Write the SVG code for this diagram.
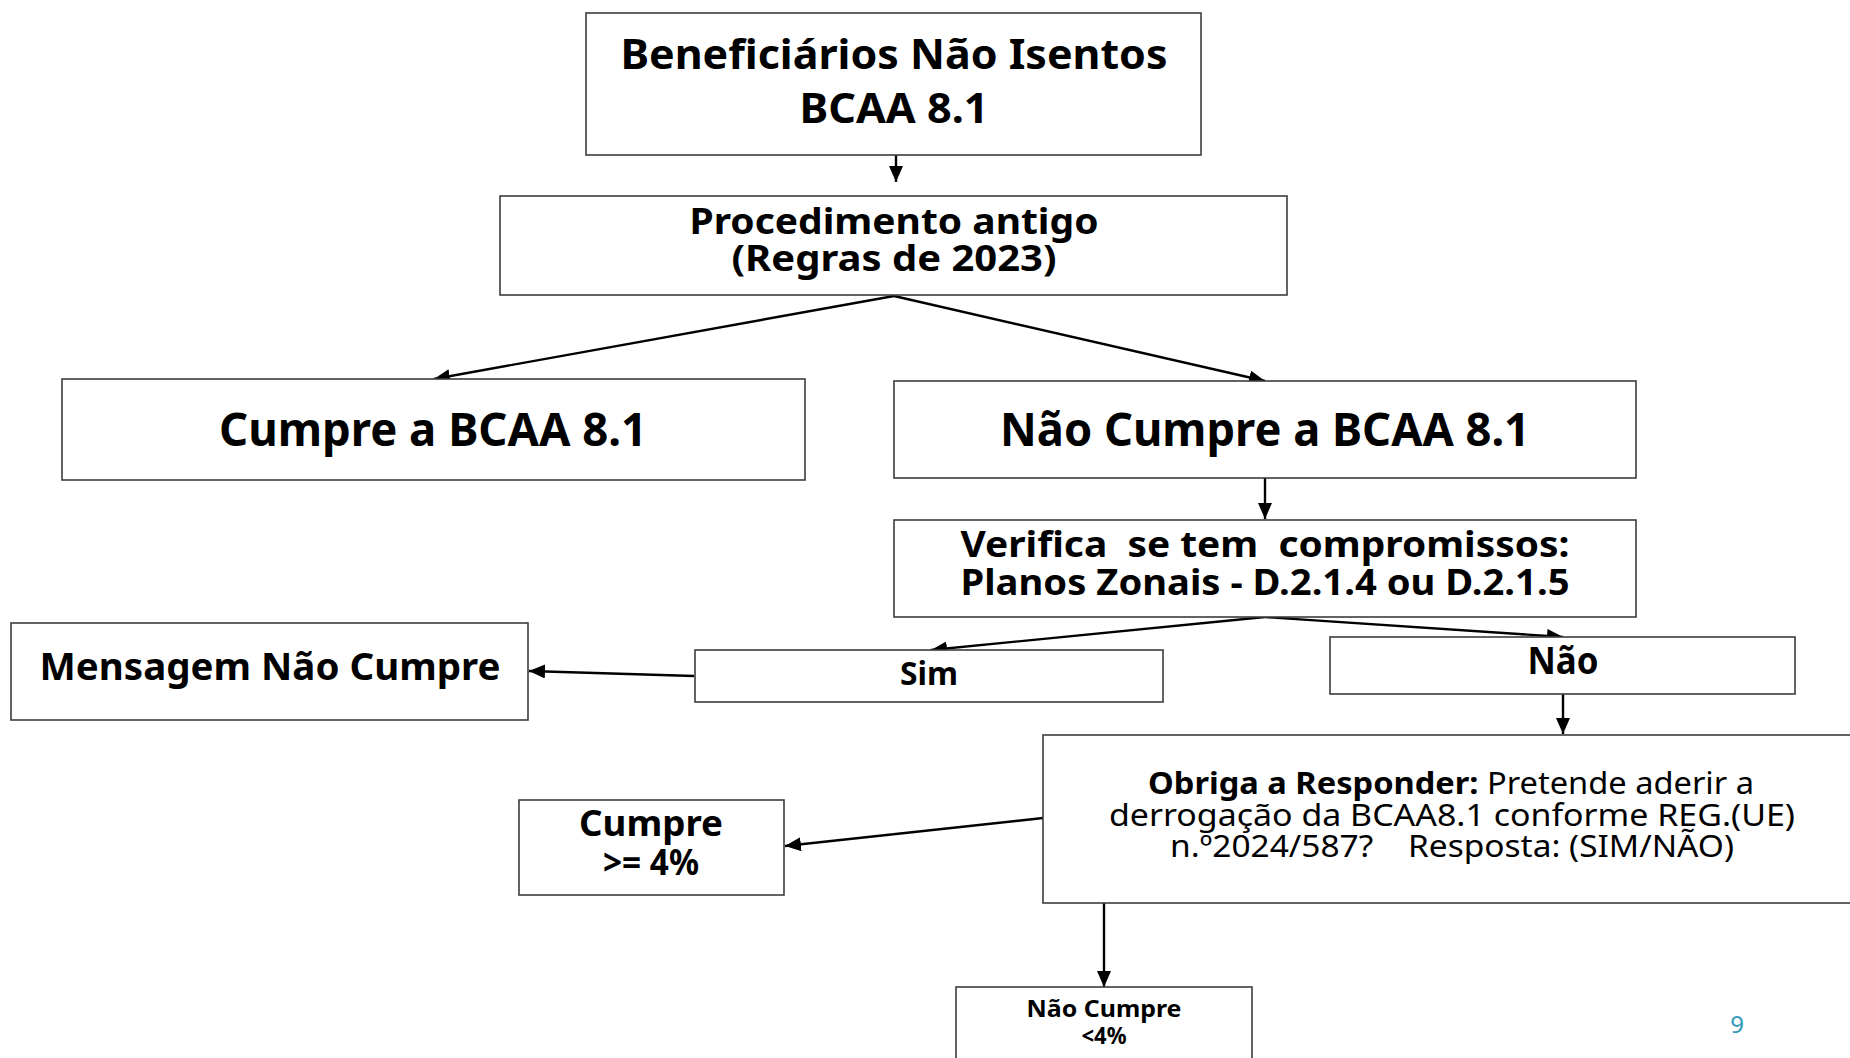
<svg xmlns="http://www.w3.org/2000/svg" width="1850" height="1058" viewBox="0 0 1850 1058">
<style>
  .box { fill: #ffffff; stroke: #3c3c3c; stroke-width: 1.6; }
  .t { font-family: "Noto Sans", "Open Sans", "Liberation Sans", sans-serif; font-weight: bold; fill: #000000; text-anchor: middle; white-space: pre; }
  .r { font-weight: normal; }
  .conn { stroke: #000000; stroke-width: 2.4; fill: none; marker-end: url(#arrow); }
  .pg { font-family: "Noto Sans", "Open Sans", sans-serif; fill: #3399bb; text-anchor: middle; font-size: 24px; }
</style>
<defs>
  <marker id="arrow" markerUnits="userSpaceOnUse" markerWidth="18" markerHeight="14" refX="16" refY="7" orient="auto">
    <path d="M0,0 L16,7 L0,14 Z" fill="#000000"/>
  </marker>
</defs>
<rect width="1850" height="1058" fill="#ffffff"/>

<g id="connectors">
  <line class="conn" x1="896" y1="155" x2="896" y2="182"/>
  <line class="conn" x1="894" y1="296" x2="434" y2="379"/>
  <line class="conn" x1="894" y1="296" x2="1265" y2="381"/>
  <line class="conn" x1="1265" y1="478" x2="1265" y2="519"/>
  <line class="conn" x1="1265" y1="617" x2="931" y2="650"/>
  <line class="conn" x1="1265" y1="617" x2="1563" y2="637"/>
  <line class="conn" x1="694" y1="676" x2="529" y2="671"/>
  <line class="conn" x1="1563" y1="694" x2="1563" y2="734"/>
  <line class="conn" x1="1043" y1="818" x2="785" y2="846"/>
  <line class="conn" x1="1104" y1="900" x2="1104" y2="987"/>
</g>

<g id="n-beneficiarios">
  <rect class="box" x="586" y="13" width="615" height="142"/>
  <text class="t" x="894" y="69" font-size="41" textLength="547" lengthAdjust="spacingAndGlyphs">Beneficiários Não Isentos</text>
  <text class="t" x="894" y="123" font-size="41" textLength="189" lengthAdjust="spacingAndGlyphs">BCAA 8.1</text>
</g>

<g id="n-procedimento">
  <rect class="box" x="500" y="196" width="787" height="99"/>
  <text class="t" x="894" y="234" font-size="35" textLength="409" lengthAdjust="spacingAndGlyphs">Procedimento antigo</text>
  <text class="t" x="894" y="271" font-size="35" textLength="325" lengthAdjust="spacingAndGlyphs">(Regras de 2023)</text>
</g>

<g id="n-cumpre">
  <rect class="box" x="62" y="379" width="743" height="101"/>
  <text class="t" x="433" y="446" font-size="46" textLength="428" lengthAdjust="spacingAndGlyphs">Cumpre a BCAA 8.1</text>
</g>

<g id="n-nao-cumpre">
  <rect class="box" x="894" y="381" width="742" height="97"/>
  <text class="t" x="1265" y="446" font-size="46" textLength="530" lengthAdjust="spacingAndGlyphs">Não Cumpre a BCAA 8.1</text>
</g>

<g id="n-verifica">
  <rect class="box" x="894" y="520" width="742" height="97"/>
  <text class="t" x="1265" y="557" font-size="36" textLength="609" lengthAdjust="spacingAndGlyphs">Verifica  se tem  compromissos:</text>
  <text class="t" x="1265" y="595" font-size="36" textLength="609" lengthAdjust="spacingAndGlyphs">Planos Zonais - D.2.1.4 ou D.2.1.5</text>
</g>

<g id="n-mensagem">
  <rect class="box" x="11" y="623" width="517" height="97"/>
  <text class="t" x="270" y="680" font-size="38" textLength="461" lengthAdjust="spacingAndGlyphs">Mensagem Não Cumpre</text>
</g>

<g id="n-sim">
  <rect class="box" x="695" y="650" width="468" height="52"/>
  <text class="t" x="929" y="685" font-size="32" textLength="58" lengthAdjust="spacingAndGlyphs">Sim</text>
</g>

<g id="n-nao">
  <rect class="box" x="1330" y="637" width="465" height="57"/>
  <text class="t" x="1563" y="674" font-size="37" textLength="71" lengthAdjust="spacingAndGlyphs">Não</text>
</g>

<g id="n-obriga">
  <rect class="box" x="1043" y="735" width="815" height="168"/>
  <text class="t" x="1451" y="794" font-size="31" textLength="606" lengthAdjust="spacingAndGlyphs">Obriga a Responder: <tspan class="r">Pretende aderir a</tspan></text>
  <text class="t r" x="1452" y="826" font-size="31" textLength="686" lengthAdjust="spacingAndGlyphs">derrogação da BCAA8.1 conforme REG.(UE)</text>
  <text class="t r" x="1452" y="857" font-size="31" textLength="564" lengthAdjust="spacingAndGlyphs">n.º2024/587?    Resposta: (SIM/NÃO)</text>
</g>

<g id="n-cumpre-4">
  <rect class="box" x="519" y="800" width="265" height="95"/>
  <text class="t" x="651" y="836" font-size="35" textLength="144" lengthAdjust="spacingAndGlyphs">Cumpre</text>
  <text class="t" x="651" y="875" font-size="35" textLength="96" lengthAdjust="spacingAndGlyphs">&gt;= 4%</text>
</g>

<g id="n-nao-cumpre-4">
  <rect class="box" x="956" y="987" width="296" height="80"/>
  <text class="t" x="1104" y="1017" font-size="24" textLength="155" lengthAdjust="spacingAndGlyphs">Não Cumpre</text>
  <text class="t" x="1104" y="1044" font-size="24" textLength="45" lengthAdjust="spacingAndGlyphs">&lt;4%</text>
</g>

<text class="pg" x="1737" y="1033">9</text>
</svg>
